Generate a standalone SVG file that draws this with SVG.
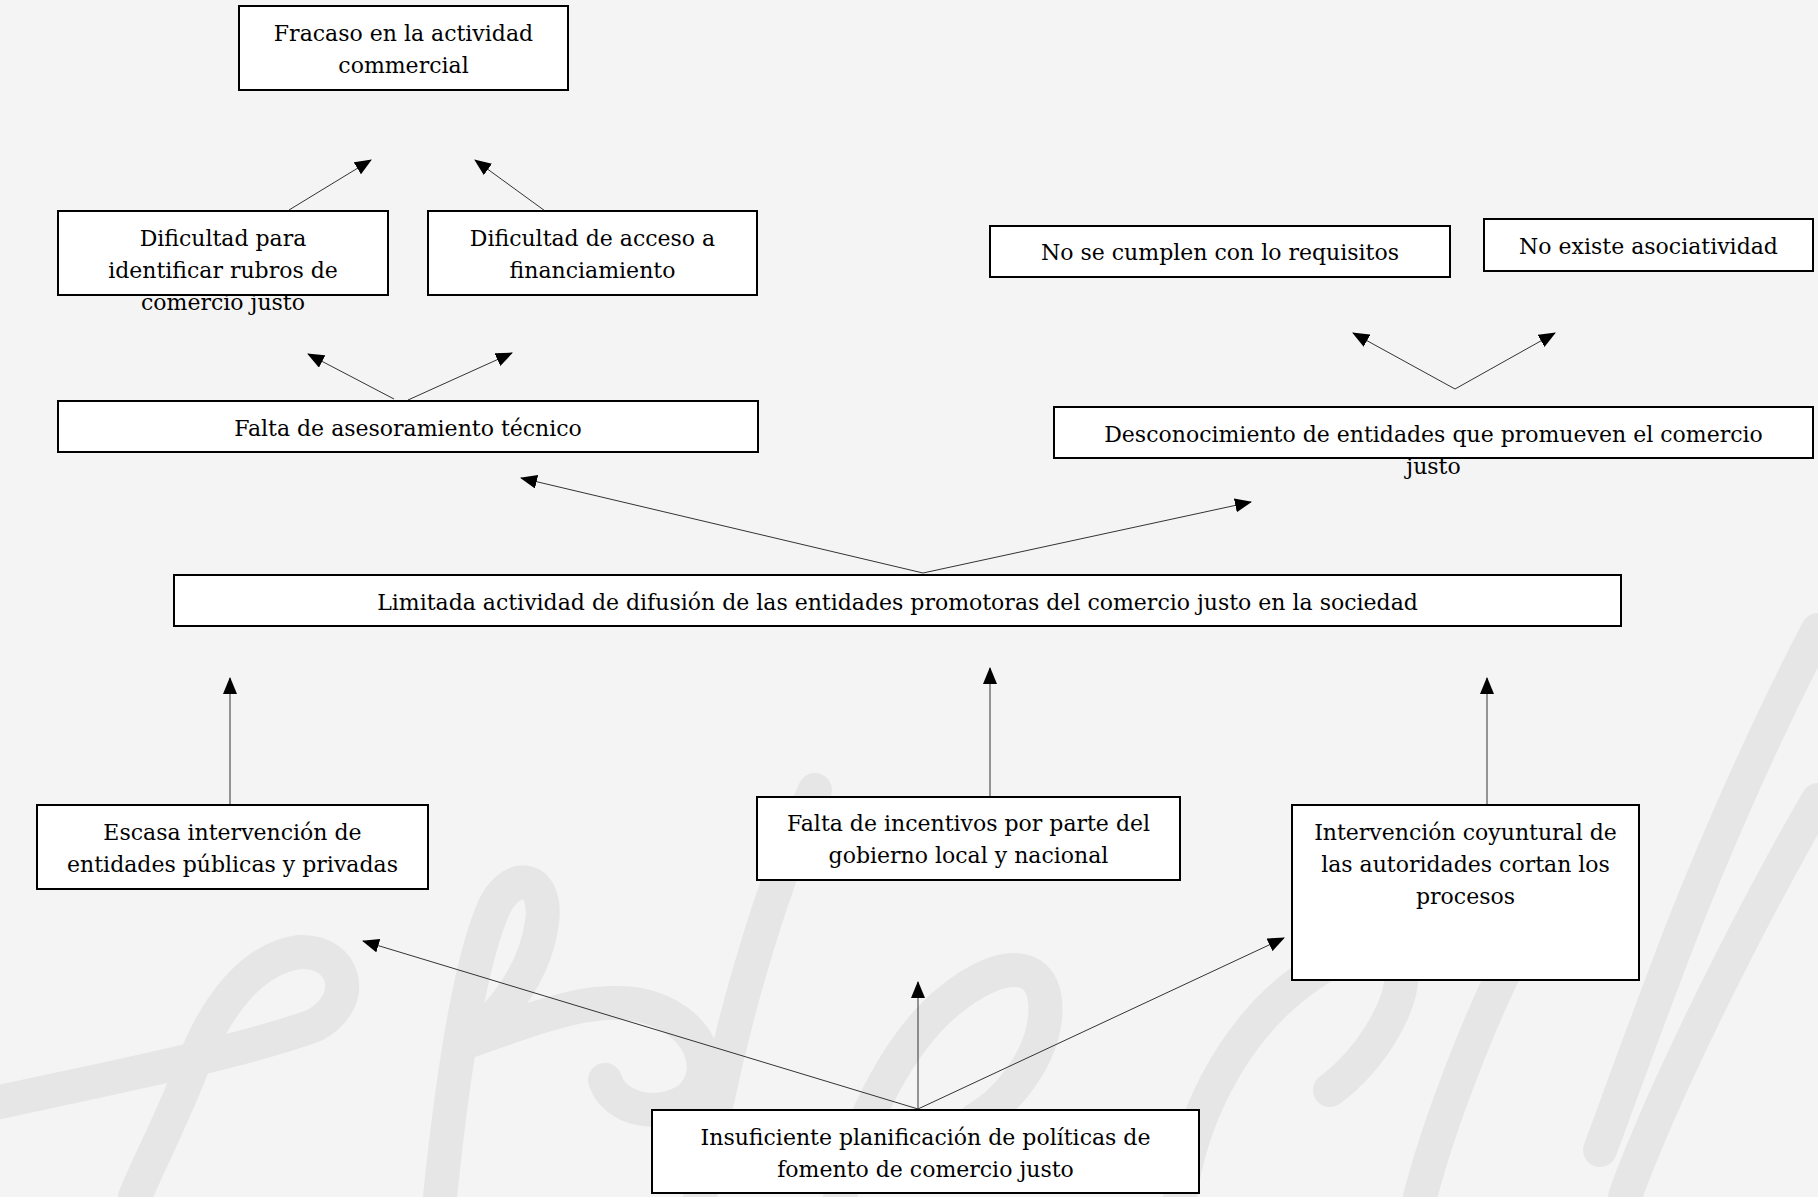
<svg xmlns="http://www.w3.org/2000/svg" width="1818" height="1197" viewBox="0 0 1818 1197">
<defs>
<marker id="ah" markerUnits="userSpaceOnUse" markerWidth="17" markerHeight="14" refX="16" refY="7" orient="auto">
<path d="M0,0 L17,7 L0,14 Z" fill="#000"/>
</marker>
<style>
.bg{fill:#f4f4f4}
.wm{fill:none;stroke:#e6e6e6;stroke-width:34;stroke-linecap:round;stroke-linejoin:round}
.box{fill:#fff;stroke:#000;stroke-width:2}
.t{font-family:"DejaVu Serif","Liberation Serif",serif;font-size:22px;fill:#000;text-anchor:middle}
.c{fill:none;stroke:#333;stroke-width:1;marker-end:url(#ah)}
</style>
</defs>
<rect class="bg" x="0" y="0" width="1818" height="1197"/>
<g id="watermark">
<path class="wm" d="M0,1102 C110,1078 250,1050 315,1025 C360,1000 345,950 300,952 C250,958 215,1010 195,1060 C172,1120 150,1160 135,1197"/>
<path class="wm" d="M440,1197 C452,1080 470,960 495,905 C515,868 548,878 542,922 C536,970 505,1010 472,1040"/>
<path class="wm" d="M472,1040 C530,1020 590,995 640,1005 C700,1018 720,1070 690,1098 C660,1120 615,1110 605,1080"/>
<path class="wm" d="M700,1197 C720,1060 765,900 815,790"/>
<path class="wm" d="M840,1197 C860,1120 900,1040 950,1000 C1000,960 1040,960 1045,1000 C1050,1050 1010,1100 975,1120"/>
<path class="wm" d="M1180,1197 C1190,1120 1230,1040 1290,990 C1340,950 1390,930 1400,960 C1410,1000 1370,1060 1330,1090"/>
<path class="wm" d="M1420,1197 C1440,1120 1480,1020 1510,960"/>
<path class="wm" d="M1818,630 C1760,740 1700,880 1665,975 C1640,1040 1615,1110 1600,1150"/>
<path class="wm" d="M1818,800 C1760,900 1700,1020 1660,1110 C1645,1145 1632,1175 1625,1197"/>
</g>
<g id="connectors">
<line class="c" x1="289" y1="210" x2="371" y2="160"/>
<line class="c" x1="552" y1="216" x2="475" y2="160"/>
<line class="c" x1="394" y1="399" x2="308" y2="354"/>
<line class="c" x1="408" y1="400" x2="512" y2="353"/>
<line class="c" x1="1455" y1="389" x2="1353" y2="333"/>
<line class="c" x1="1455" y1="389" x2="1555" y2="333"/>
<line class="c" x1="923" y1="573" x2="521" y2="478"/>
<line class="c" x1="923" y1="573" x2="1251" y2="502"/>
<line class="c" x1="230" y1="805" x2="230" y2="678"/>
<line class="c" x1="990" y1="796" x2="990" y2="668"/>
<line class="c" x1="1487" y1="805" x2="1487" y2="678"/>
<line class="c" x1="918" y1="1109" x2="363" y2="941"/>
<line class="c" x1="918" y1="1109" x2="918" y2="982"/>
<line class="c" x1="918" y1="1109" x2="1284" y2="938"/>
</g>
<g id="n-fracaso">
<rect class="box" x="239" y="6" width="329" height="84"/>
<text class="t" x="403.5" y="41">Fracaso en la actividad</text>
<text class="t" x="403.5" y="73">commercial</text>
</g>
<g id="n-dif-rubros">
<rect class="box" x="58" y="211" width="330" height="84"/>
<text class="t" x="223" y="246">Dificultad para</text>
<text class="t" x="223" y="278">identificar rubros de</text>
<text class="t" x="223" y="310">comercio justo</text>
</g>
<g id="n-dif-financ">
<rect class="box" x="428" y="211" width="329" height="84"/>
<text class="t" x="592.5" y="246">Dificultad de acceso a</text>
<text class="t" x="592.5" y="278">financiamiento</text>
</g>
<g id="n-asesoramiento">
<rect class="box" x="58" y="401" width="700" height="51"/>
<text class="t" x="408" y="436">Falta de asesoramiento técnico</text>
</g>
<g id="n-requisitos">
<rect class="box" x="990" y="226" width="460" height="51"/>
<text class="t" x="1220" y="260">No se cumplen con lo requisitos</text>
</g>
<g id="n-asociatividad">
<rect class="box" x="1484" y="219" width="329" height="52"/>
<text class="t" x="1648.5" y="254">No existe asociatividad</text>
</g>
<g id="n-desconocimiento">
<rect class="box" x="1054" y="407" width="759" height="51"/>
<text class="t" x="1433.5" y="442">Desconocimiento de entidades que promueven el comercio</text>
<text class="t" x="1433.5" y="474">justo</text>
</g>
<g id="n-limitada">
<rect class="box" x="174" y="575" width="1447" height="51"/>
<text class="t" x="897.5" y="610">Limitada actividad de difusión de las entidades promotoras del comercio justo en la sociedad</text>
</g>
<g id="n-escasa">
<rect class="box" x="37" y="805" width="391" height="84"/>
<text class="t" x="232.5" y="840">Escasa intervención de</text>
<text class="t" x="232.5" y="872">entidades públicas y privadas</text>
</g>
<g id="n-incentivos">
<rect class="box" x="757" y="797" width="423" height="83"/>
<text class="t" x="968.5" y="831">Falta de incentivos por parte del</text>
<text class="t" x="968.5" y="863">gobierno local y nacional</text>
</g>
<g id="n-intervencion">
<rect class="box" x="1292" y="805" width="347" height="175"/>
<text class="t" x="1465.5" y="840">Intervención coyuntural de</text>
<text class="t" x="1465.5" y="872">las autoridades cortan los</text>
<text class="t" x="1465.5" y="904">procesos</text>
</g>
<g id="n-insuficiente">
<rect class="box" x="652" y="1110" width="547" height="83"/>
<text class="t" x="925.5" y="1145">Insuficiente planificación de políticas de</text>
<text class="t" x="925.5" y="1177">fomento de comercio justo</text>
</g>
</svg>
